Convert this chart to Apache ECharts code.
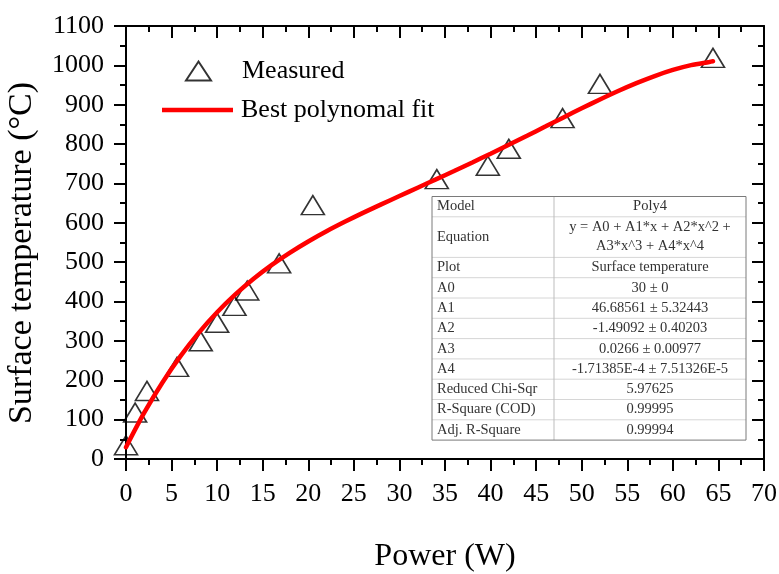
<!DOCTYPE html>
<html>
<head>
<meta charset="utf-8">
<script src="https://cdn.jsdelivr.net/npm/echarts@6/dist/echarts.min.js"></script>
<style>
html, body { margin: 0; padding: 0; background: #fff; }
#chart { width: 779px; height: 574px; }
</style>
</head>
<body>
<div id="chart"></div>
<script>
// measured points
var powerW = [0, 1.0, 2.3, 5.6, 8.2, 10.0, 11.9, 13.3, 16.8, 20.5, 34.1, 39.7, 42.0, 47.9, 52.0, 64.4]
var surfaceTemp = [35, 118, 173, 234, 299, 346, 389, 428, 497, 645, 711, 745, 788, 866, 953, 1019]

// red fit curve, sampled every 2 W
var fitPower = [0, 2, 4, 6, 8, 10, 12, 14, 16, 18, 20, 22, 24, 26, 28, 30, 32, 34, 36, 38, 40, 42, 44, 46, 48, 50, 52, 54, 56, 58, 60, 62, 64, 64.4]
var fitTemp = [30, 117.6, 194.5, 262.0, 321.0, 372.7, 418.0, 457.8, 493.0, 524.4, 552.7, 578.6, 602.5, 625.2, 646.9, 668.1, 689.2, 710.3, 731.6, 753.4, 775.6, 798.3, 821.3, 844.5, 867.8, 890.8, 913.3, 934.8, 954.8, 972.8, 988.3, 1000.5, 1008.7, 1010.4]

// fit report table
var tableLabels = ['Model', 'Equation', 'Plot', 'A0', 'A1', 'A2', 'A3', 'A4', 'Reduced Chi-Sqr', 'R-Square (COD)', 'Adj. R-Square']
var tableValues = ['Poly4', 'y = A0 + A1*x + A2*x^2 +\nA3*x^3 + A4*x^4', 'Surface temperature', '30 \u00b1 0', '46.68561 \u00b1 5.32443',
	'-1.49092 \u00b1 0.40203', '0.0266 \u00b1 0.00977', '-1.71385E-4 \u00b1 7.51326E-5', '5.97625', '0.99995', '0.99994']
var tableSpans = [1, 2, 1, 1, 1, 1, 1, 1, 1, 1, 1]

var FONT = 'Liberation Serif'

function pairs(xs, ys) {
	return xs.map(function (x, i) { return [x, ys[i]] })
}

function buildTable() {
	var left = 432, top = 196.5, w = 314, col = 122, rowH = 20.3
	var children = []
	var units = tableSpans.reduce(function (a, b) { return a + b }, 0)
	var h = units * rowH
	children.push({ type: 'rect', shape: { x: 0, y: 0, width: w, height: h }, style: { fill: '#fff', stroke: 'none' } })
	var y = 0
	tableLabels.forEach(function (label, i) {
		var rh = tableSpans[i] * rowH
		if (i > 0) {
			children.push({ type: 'line', shape: { x1: 0, y1: y, x2: w, y2: y }, style: { stroke: '#d6d6d6', lineWidth: 1 } })
		}
		children.push({ type: 'text', x: 5, y: y + rh / 2,
			style: { text: label, font: '14.5px "' + FONT + '"', fill: '#333', align: 'left', verticalAlign: 'middle' } })
		children.push({ type: 'text', x: col + (w - col) / 2, y: y + rh / 2,
			style: { text: tableValues[i], font: '14.5px "' + FONT + '"', fill: '#333', align: 'center', verticalAlign: 'middle', lineHeight: 19 } })
		y += rh
	})
	children.push({ type: 'line', shape: { x1: col, y1: 0, x2: col, y2: h }, style: { stroke: '#bdbdbd', lineWidth: 1 } })
	children.push({ type: 'rect', shape: { x: 0, y: 0, width: w, height: h }, style: { fill: 'none', stroke: '#7a7a7a', lineWidth: 1 } })
	return { type: 'group', x: left, y: top, z: 100, children: children }
}

function axisCommon(extra) {
	var base = {
		type: 'value',
		axisLine: { show: true, onZero: false, lineStyle: { color: '#000', width: 2 } },
		axisTick: { show: true, length: 12, lineStyle: { color: '#000', width: 2 } },
		minorTick: { show: true, splitNumber: 2, length: 6, lineStyle: { color: '#000', width: 2 } },
		splitLine: { show: false },
		minorSplitLine: { show: false },
		axisLabel: { color: '#000', fontFamily: FONT, fontSize: 26 }
	}
	return Object.assign(base, extra)
}

var plain = function (v) { return String(v) }

var chart = echarts.init(document.getElementById('chart'), null, { renderer: 'canvas' })

chart.setOption({
	backgroundColor: '#fff',
	animation: false,
	grid: { left: 126, right: 15, top: 26, bottom: 115, containLabel: false, outerBoundsMode: 'none' },
	xAxis: [
		axisCommon({ min: 0, max: 70, interval: 5, position: 'bottom',
			axisLabel: { color: '#000', fontFamily: FONT, fontSize: 26, margin: 22, formatter: plain } }),
		axisCommon({ min: 0, max: 70, interval: 5, position: 'top',
			axisTick: { show: true, inside: true, length: 12, lineStyle: { color: '#000', width: 2 } },
			axisLabel: { show: false } })
	],
	yAxis: [
		axisCommon({ min: 0, max: 1100, interval: 100, position: 'left',
			axisLabel: { color: '#000', fontFamily: FONT, fontSize: 26, margin: 22, formatter: plain } }),
		axisCommon({ min: 0, max: 1100, interval: 100, position: 'right',
			axisTick: { show: true, inside: true, length: 12, lineStyle: { color: '#000', width: 2 } },
			axisLabel: { show: false } })
	],
	legend: [
		{
			data: ['Measured'], left: 185, top: 58, padding: 0, selectedMode: false,
			itemWidth: 25, itemHeight: 19,
			textStyle: { color: '#000', fontFamily: FONT, fontSize: 26, padding: [7, 0, 0, 26] }
		},
		{
			data: [{ name: 'Best polynomal fit', icon: 'path://M0,0L71,0L71,4.5L0,4.5Z' }],
			left: 162, top: 97, padding: 0, selectedMode: false,
			itemWidth: 71, itemHeight: 19,
			textStyle: { color: '#000', fontFamily: FONT, fontSize: 26, padding: [7, 0, 0, 3] }
		}
	],
	series: [
		{
			name: 'Measured',
			type: 'scatter',
			data: pairs(powerW, surfaceTemp),
			symbol: 'triangle',
			symbolSize: [23, 19],
			clip: false,
			itemStyle: { color: 'rgba(0,0,0,0)', borderColor: '#000', borderWidth: 1.6 },
			z: 2
		},
		{
			name: 'Best polynomal fit',
			type: 'line',
			data: pairs(fitPower, fitTemp),
			smooth: 0.3,
			symbol: 'none',
			lineStyle: { color: '#ff0000', width: 4.5, cap: 'round' },
			itemStyle: { color: '#ff0000' },
			z: 3
		}
	],
	graphic: [
		{ type: 'text', x: 22.5, y: 253, rotation: Math.PI / 2,
			style: { text: 'Surface temperature (\u00b0C)', font: '34px "' + FONT + '"', fill: '#000', align: 'center', verticalAlign: 'middle' } },
		{ type: 'text', x: 445, y: 557,
			style: { text: 'Power (W)', font: '32px "' + FONT + '"', fill: '#000', align: 'center', verticalAlign: 'middle' } },
		buildTable()
	]
})
</script>
</body>
</html>
